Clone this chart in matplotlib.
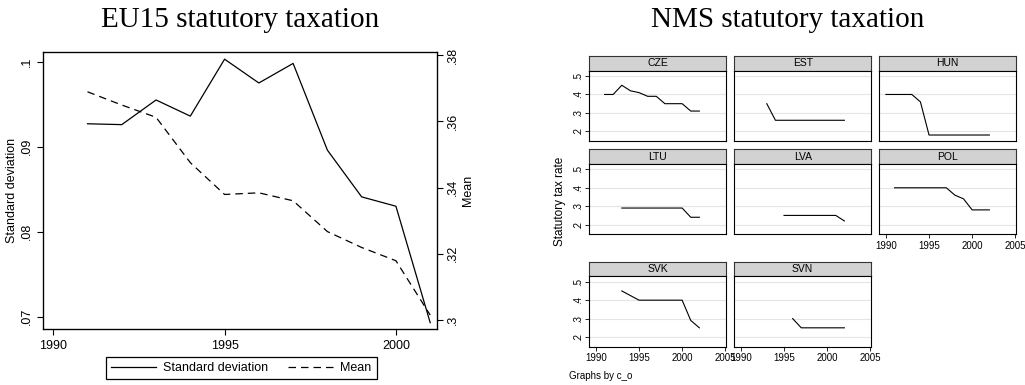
import numpy as np
import matplotlib
matplotlib.use('Agg')
import matplotlib.pyplot as plt
from matplotlib.lines import Line2D

plt.rcParams['font.family'] = ['Liberation Sans', 'DejaVu Sans']

# EU15: dispersion and mean of statutory rates
years = [1991, 1992, 1993, 1994, 1995, 1996, 1997, 1998, 1999, 2000, 2001]
sd = [0.0927, 0.0926, 0.0955, 0.0936, 0.1003, 0.0975, 0.0998, 0.0896, 0.0841, 0.0830, 0.0693]
mean = [0.3689, 0.3649, 0.3612, 0.3475, 0.3379, 0.3384, 0.3360, 0.3267, 0.3219, 0.3179, 0.3015]

# NMS: statutory tax rate by country
cze_years = [1991, 1992, 1993, 1994, 1995, 1996, 1997, 1998, 1999, 2000, 2001, 2002]
cze_rate = [0.40, 0.40, 0.45, 0.42, 0.41, 0.39, 0.39, 0.35, 0.35, 0.35, 0.31, 0.31]
est_years = [1993, 1994, 1995, 1996, 1997, 1998, 1999, 2000, 2001, 2002]
est_rate = [0.35, 0.26, 0.26, 0.26, 0.26, 0.26, 0.26, 0.26, 0.26, 0.26]
hun_years = [1990, 1991, 1992, 1993, 1994, 1995, 1996, 1997, 1998, 1999, 2000, 2001, 2002]
hun_rate = [0.40, 0.40, 0.40, 0.40, 0.36, 0.18, 0.18, 0.18, 0.18, 0.18, 0.18, 0.18, 0.18]
ltu_years = [1993, 1994, 1995, 1996, 1997, 1998, 1999, 2000, 2001, 2002]
ltu_rate = [0.29, 0.29, 0.29, 0.29, 0.29, 0.29, 0.29, 0.29, 0.24, 0.24]
lva_years = [1995, 1996, 1997, 1998, 1999, 2000, 2001, 2002]
lva_rate = [0.25, 0.25, 0.25, 0.25, 0.25, 0.25, 0.25, 0.22]
pol_years = [1991, 1992, 1993, 1994, 1995, 1996, 1997, 1998, 1999, 2000, 2001, 2002]
pol_rate = [0.40, 0.40, 0.40, 0.40, 0.40, 0.40, 0.40, 0.36, 0.34, 0.28, 0.28, 0.28]
svk_years = [1993, 1994, 1995, 1996, 1997, 1998, 1999, 2000, 2001, 2002]
svk_rate = [0.45, 0.425, 0.40, 0.40, 0.40, 0.40, 0.40, 0.40, 0.29, 0.25]
svn_years = [1996, 1997, 1998, 1999, 2000, 2001, 2002]
svn_rate = [0.30, 0.25, 0.25, 0.25, 0.25, 0.25, 0.25]

countries = ['CZE', 'EST', 'HUN', 'LTU', 'LVA', 'POL', 'SVK', 'SVN']
series = {'CZE': (cze_years, cze_rate), 'EST': (est_years, est_rate),
          'HUN': (hun_years, hun_rate), 'LTU': (ltu_years, ltu_rate),
          'LVA': (lva_years, lva_rate), 'POL': (pol_years, pol_rate),
          'SVK': (svk_years, svk_rate), 'SVN': (svn_years, svn_rate)}

W, H = 1025, 385
fig = plt.figure(figsize=(W / 100, H / 100), dpi=100)


def px_axes(x0, y0, x1, y1):
    return fig.add_axes([x0 / W, 1 - y1 / H, (x1 - x0) / W, (y1 - y0) / H])


def strip0(v, pos=None):
    s = f'{v:g}'
    return s[1:] if s.startswith('0') else s


# ---- left chart ----
ax = px_axes(43.3, 51.7, 436.7, 329.3)
ax.plot(years, sd, color='black', lw=0.9)
ax.set_xlim(1989.71, 2001.19)
ax.set_ylim(0.06852, 0.10118)
ax.set_xticks([1990, 1995, 2000])
ax.set_yticks([0.07, 0.08, 0.09, 0.1])
ax.yaxis.set_major_formatter(plt.FuncFormatter(strip0))
for lab in ax.get_yticklabels():
    lab.set_rotation(90)
    lab.set_va('center')
ax.tick_params(labelsize=9, length=4, width=0.8)
ax.set_ylabel('Standard deviation', fontsize=9, labelpad=2)
for s in ax.spines.values():
    s.set_linewidth(0.9)

ax2 = ax.twinx()
ax2.plot(years, mean, color='black', lw=0.9, linestyle=(0, (6, 4)))
ax2.set_ylim(0.2972, 0.381)
ax2.set_yticks([0.30, 0.32, 0.34, 0.36, 0.38])
ax2.yaxis.set_major_formatter(plt.FuncFormatter(strip0))
for lab in ax2.get_yticklabels():
    lab.set_rotation(90)
    lab.set_va('center')
ax2.tick_params(labelsize=9, length=4, width=0.8)
ax2.set_ylabel('Mean', fontsize=9, labelpad=2)

handles = [Line2D([], [], color='black', lw=0.9),
           Line2D([], [], color='black', lw=0.9, linestyle=(0, (6, 4)))]
leg = fig.legend(handles, ['Standard deviation', 'Mean'], ncol=2,
                 loc='center', bbox_to_anchor=(241.5 / W, 1 - 368 / H),
                 fontsize=9, handlelength=3.6, columnspacing=1.6,
                 fancybox=False, edgecolor='black', framealpha=1,
                 borderpad=0.4, handletextpad=0.55, borderaxespad=0)
leg.get_frame().set_linewidth(0.9)

fig.text(240.5 / W, 1 - 20 / H, 'EU15 statutory taxation', ha='center', va='center',
         fontsize=21, family=['Liberation Serif', 'DejaVu Serif'])

# ---- right chart: small multiples ----
fig.text(787.5 / W, 1 - 20 / H, 'NMS statutory taxation', ha='center', va='center',
         fontsize=21, family=['Liberation Serif', 'DejaVu Serif'])

col_x = [589.3, 734.3, 879.3]
row_top = [56.0, 149.3, 261.7]
pw, hh, ph = 136.8, 14.7, 70.4
bottom_of_col = {0: 6, 1: 7, 2: 5}

for i, c in enumerate(countries):
    r, k = divmod(i, 3)
    x0 = col_x[k]
    y0 = row_top[r]
    hdr = px_axes(x0, y0, x0 + pw, y0 + hh)
    hdr.set_facecolor('#d2d2d2')
    hdr.set_xticks([])
    hdr.set_yticks([])
    for s in hdr.spines.values():
        s.set_linewidth(0.8)
        s.set_color('#333333')
    hdr.text(0.5, 0.5, c, ha='center', va='center', fontsize=7.5, transform=hdr.transAxes)

    pa = px_axes(x0, y0 + hh, x0 + pw, y0 + hh + ph)
    yrs, rate = series[c]
    pa.plot(yrs, rate, color='black', lw=0.8)
    pa.set_xlim(1989.23, 2005.1)
    pa.set_ylim(0.147, 0.529)
    for g in [0.2, 0.3, 0.4, 0.5]:
        pa.axhline(g, color='#e4e4e4', lw=0.8, zorder=0)
    for s in pa.spines.values():
        s.set_linewidth(0.8)
    if k == 0:
        pa.set_yticks([0.2, 0.3, 0.4, 0.5])
        pa.yaxis.set_major_formatter(plt.FuncFormatter(strip0))
        for lab in pa.get_yticklabels():
            lab.set_rotation(90)
            lab.set_va('center')
    else:
        pa.set_yticks([])
    if bottom_of_col[k] == i:
        pa.set_xticks([1990, 1995, 2000, 2005])
    else:
        pa.set_xticks([])
    pa.tick_params(labelsize=7, length=3, width=0.6, pad=1.5)

fig.text(560 / W, 1 - 201 / H, 'Statutory tax rate', rotation=90, ha='center',
         va='center', fontsize=8.5)
fig.text(569 / W, 1 - 376 / H, 'Graphs by c_o', ha='left', va='center', fontsize=7)

fig.savefig('out.png', dpi=100)
